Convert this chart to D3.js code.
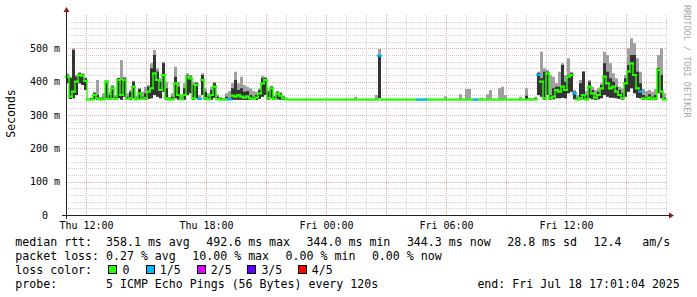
<!DOCTYPE html>
<html><head><meta charset="utf-8">
<script src="https://cdn.jsdelivr.net/npm/d3@7"></script>
<style>
html,body{margin:0;padding:0;background:#fff;overflow:hidden;}
svg{display:block;}
text{font-family:"DejaVu Sans Mono",monospace;white-space:pre;}
</style></head><body>
<svg id="chart" width="697" height="297"></svg>
<script>
// ---------------- DATA ----------------
const startTime = new Date(2025, 6, 17, 11, 1, 4);
const endTime = new Date(2025, 6, 18, 17, 1, 4);
const stepMinutes = 9;
const yTickValues = [0, 100, 200, 300, 400, 500];
const yTickLabels = ["0", "100 m", "200 m", "300 m", "400 m", "500 m"];

// median rtt (ms)
const med = [
 415,355,370,400,420,418,402,346,346,360,
 350,346,347,400,348,380,348,405,360,405,
 348,350,385,347,365,348,350,370,380,425,
 405,375,420,350,346,347,395,360,347,360,
 415,410,350,390,348,405,350,347,360,385,
 348,346,346,347,347,358,355,360,355,352,
 356,350,348,352,365,395,405,350,380,348,
 365,358,350,347,346,346,346,346,346,346,
 346,346,346,346,346,346,346,346,346,346,
 346,346,346,346,346,346,346,346,346,346,
 346,346,346,346,478,346,346,346,346,346,
 346,346,346,346,346,346,346,346,346,346,
 346,346,346,346,346,346,346,346,346,346,
 346,346,346,346,346,346,346,346,346,346,
 346,346,346,346,346,346,346,346,346,346,
 346,346,346,346,346,346,347,420,400,350,
 425,350,355,375,370,385,375,415,420,365,
 346,350,360,346,385,365,352,360,380,415,
 395,380,385,370,360,350,395,430,455,420,
 380,370,350,348,352,347,350,435,370,346
];
// lowest ping (ms)
const lo = [
 395,348,350,360,395,390,375,345,345,347,
 346,345,345,350,345,350,345,350,346,355,
 345,345,350,345,347,345,345,348,350,360,
 355,350,370,346,345,345,350,346,345,346,
 360,365,346,350,346,360,346,345,346,352,
 345,345,345,345,345,346,346,346,346,345,
 346,345,345,345,348,355,360,346,350,345,
 347,346,345,345,345,345,345,345,345,345,
 345,345,345,345,345,345,345,345,345,345,
 345,345,345,345,345,345,345,345,345,345,
 345,345,345,345,350,345,345,345,345,345,
 345,345,345,345,345,345,345,345,345,345,
 345,345,345,345,345,345,345,345,345,345,
 345,345,345,345,345,345,345,345,345,345,
 345,345,345,345,345,345,345,345,345,345,
 345,345,345,345,345,345,345,360,355,346,
 360,346,347,350,350,352,350,365,370,347,
 345,346,347,345,350,347,346,347,350,360,
 355,352,352,350,348,346,355,370,380,365,
 352,350,346,345,346,345,346,365,350,345
];
// 4th ping (top of dark smoke, ms)
const dk = [
 420,410,495,415,425,422,410,348,350,365,
 360,350,352,395,360,385,355,410,405,410,
 355,370,400,352,378,355,365,385,440,480,
 430,400,455,380,350,355,415,385,352,380,
 420,415,390,395,352,420,370,355,375,395,
 355,350,348,355,350,380,405,375,380,370,
 372,360,355,360,375,410,410,370,385,355,
 370,365,355,349,348,348,348,348,348,348,
 348,348,348,348,348,348,348,348,348,348,
 348,348,348,348,348,348,348,348,348,348,
 348,348,348,348,478,348,348,348,348,348,
 348,348,348,348,348,348,348,348,348,348,
 348,348,348,348,348,348,348,348,348,348,
 348,348,348,348,348,348,348,348,348,348,
 348,348,348,348,348,348,348,348,348,348,
 348,348,348,358,348,348,350,425,410,430,
 430,360,380,385,385,450,400,420,425,370,
 350,395,430,360,400,375,360,370,390,455,
 430,410,400,385,375,365,410,450,480,480,
 430,395,360,355,362,355,360,440,420,352
];
// highest ping (ms)
const hi = [
 425,415,500,420,428,425,412,350,352,370,
 405,355,365,405,370,390,360,412,465,415,
 365,375,403,358,382,370,385,390,455,495,
 440,410,460,400,355,365,445,400,360,395,
 425,420,400,400,360,425,380,365,385,400,
 362,355,352,365,372,395,430,395,415,390,
 385,380,372,370,380,418,415,375,388,358,
 372,368,358,352,349,349,349,349,349,349,
 349,349,349,349,349,349,349,349,349,349,
 349,349,349,349,349,349,355,349,349,349,
 349,349,349,360,498,349,349,349,349,349,
 349,349,349,349,349,349,349,349,349,349,
 349,349,349,349,349,349,356,349,349,349,
 349,362,349,378,378,349,349,349,352,349,
 362,375,349,349,380,385,360,349,349,349,
 349,355,349,380,352,350,355,430,490,440,
 435,420,415,395,430,455,420,470,430,375,
 360,405,432,372,405,385,375,380,395,490,
 480,455,425,410,385,380,420,500,530,515,
 470,430,378,372,375,370,378,480,500,365
];
// sample indices with 1/5 packet loss
const lossOneFifth = [44, 54, 104, 117, 119, 136, 157, 169, 191];

const lossLabels = ["0", "1/5", "2/5", "3/5", "4/5"];
const lossColors = ["#26ff00", "#00b8ff", "#dd00ff", "#5e00ff", "#ff0000"];

const rttLabel = "median rtt:";
const rttItems = ["358.1 ms avg", "492.6 ms max", "344.0 ms min", "344.3 ms now", "28.8 ms sd", "12.4   am/s"];
const lossLabel = "packet loss:";
const lossItems = ["0.27 % avg", "10.00 % max", "0.00 % min", "0.00 % now"];
const colorLabel = "loss color:";
const probeLabel = "probe:";
const probeText = "5 ICMP Echo Pings (56 Bytes) every 120s";
const endText = "end: Fri Jul 18 17:01:04 2025";
const yTitle = "Seconds";
const watermark = "RRDTOOL / TOBI OETIKER";

// ---------------- DRAW ----------------
const svg = d3.select("#chart");
const x = d3.scaleTime().domain([startTime, endTime]).range([66, 666]);
const y = d3.scaleLinear().domain([0, 600]).range([215, 15]);

const data = med.map((m, i) => ({
  t: d3.timeMinute.offset(startTime, i * stepMinutes),
  med: m, lo: lo[i], dk: dk[i], hi: hi[i],
  loss: lossOneFifth.includes(i) ? 1 : 0
}));
const last = data[data.length - 1];
const stepData = data.concat([Object.assign({}, last, {t: d3.timeMinute.offset(last.t, stepMinutes)})]);

const px = v => Math.round(v) + 0.5;

// grid
const grid = svg.append("g");
const hourTicks = d3.timeHour.every(1).range(startTime, endTime);
hourTicks.forEach(h => {
  const major = h.getHours() % 3 === 0;
  grid.append("line")
    .attr("x1", px(x(h))).attr("x2", px(x(h)))
    .attr("y1", 15).attr("y2", 215)
    .attr("stroke", major ? "#e8a8a8" : "#d0d0d0")
    .attr("stroke-dasharray", "1,1");
});
d3.range(20, 600, 20).forEach(v => {
  const major = v % 100 === 0;
  grid.append("line")
    .attr("x1", 66).attr("x2", 667)
    .attr("y1", px(y(v))).attr("y2", px(y(v)))
    .attr("stroke", major ? "#e8a8a8" : "#d0d0d0")
    .attr("stroke-dasharray", "1,1");
});

// smoke
const areaLight = d3.area().curve(d3.curveStepAfter)
  .x(d => x(d.t)).y0(d => y(d.lo)).y1(d => y(d.hi));
const areaDark = d3.area().curve(d3.curveStepAfter)
  .x(d => x(d.t)).y0(d => y(d.lo)).y1(d => y(d.dk));
svg.append("path").attr("d", areaLight(stepData)).attr("fill", "#a0a0a0");
svg.append("path").attr("d", areaDark(stepData)).attr("fill", "#333333");

// median lines by loss level: horizontal runs thick, vertical joins thin
lossColors.forEach((col, lvl) => {
  const ph = d3.path(), pv = d3.path();
  let any = false;
  data.forEach((d, i) => {
    if (d.loss !== lvl) return;
    any = true;
    const x0 = x(d.t), x1 = x(stepData[i + 1].t), yy = y(d.med);
    if (i > 0 && data[i - 1].loss === lvl) {
      pv.moveTo(x0, y(data[i - 1].med)); pv.lineTo(x0, yy);
    }
    ph.moveTo(x0, yy); ph.lineTo(x1, yy);
  });
  if (any) {
    svg.append("path").attr("d", pv.toString())
      .attr("fill", "none").attr("stroke", col).attr("stroke-width", 1.4);
    svg.append("path").attr("d", ph.toString())
      .attr("fill", "none").attr("stroke", col).attr("stroke-width", 2.2)
      .attr("stroke-linecap", "square");
  }
});

// axes
const axisCol = "#222";
svg.append("line").attr("x1", 62).attr("x2", 670).attr("y1", 215.5).attr("y2", 215.5).attr("stroke", axisCol);
svg.append("line").attr("x1", 66.5).attr("x2", 66.5).attr("y1", 219).attr("y2", 11).attr("stroke", axisCol);
svg.append("path").attr("d", "M669,212.5L674,215.5L669,218.5Z").attr("fill", "#8b1a1a");
svg.append("path").attr("d", "M63.5,12L66.5,7L69.5,12Z").attr("fill", "#8b1a1a");

// y tick labels
yTickValues.forEach((v, i) => {
  svg.append("text").attr("x", 45).attr("y", y(v) + 3.5)
    .attr("text-anchor", "middle").attr("font-size", 10).attr("fill", "#000")
    .text(yTickLabels[i]);
});
// x tick labels
const fmt = d3.timeFormat("%a %H:%M");
d3.timeHour.every(6).range(startTime, endTime).forEach(h => {
  svg.append("text").attr("x", px(x(h))).attr("y", 229)
    .attr("text-anchor", "middle").attr("font-size", 10).attr("fill", "#000")
    .text(fmt(h));
});

// titles
svg.append("text").attr("transform", "translate(15,113.5) rotate(-90)")
  .attr("text-anchor", "middle").attr("font-size", 11.5).attr("fill", "#000").text(yTitle);
svg.append("text").attr("transform", "translate(684,5) rotate(90)")
  .attr("font-size", 8.5).attr("fill", "#a8a8a8").text(watermark);

// legend
const lg = svg.append("g").attr("font-size", 11.6).attr("fill", "#000");
const rowY = [245.5, 259.5, 273.5, 287.5];
const col0 = 15.3, colV = 106.0;
const rttX = [colV, 206.3, 306.6, 406.9, 507.2, 593.5];
const lossX = [colV, 192.3, 285.6, 371.9];
lg.append("text").attr("x", col0).attr("y", rowY[0]).text(rttLabel);
rttItems.forEach((s, i) => lg.append("text").attr("x", rttX[i]).attr("y", rowY[0]).text(s));
lg.append("text").attr("x", col0).attr("y", rowY[1]).text(lossLabel);
lossItems.forEach((s, i) => lg.append("text").attr("x", lossX[i]).attr("y", rowY[1]).text(s));
lg.append("text").attr("x", col0).attr("y", rowY[2]).text(colorLabel);
const boxX = [108.5, 146.5, 197.5, 247.5, 298.5];
const boxLabelX = [122.4, 159.8, 210.8, 261.4, 311.8];
lossLabels.forEach((s, i) => {
  lg.append("rect").attr("x", boxX[i]).attr("y", 265.5).attr("width", 8).attr("height", 8)
    .attr("fill", lossColors[i]).attr("stroke", "#000").attr("stroke-width", 1);
  lg.append("text").attr("x", boxLabelX[i]).attr("y", rowY[2]).text(s);
});
lg.append("text").attr("x", col0).attr("y", rowY[3]).text(probeLabel);
lg.append("text").attr("x", colV).attr("y", rowY[3]).text(probeText);
lg.append("text").attr("x", 477.4).attr("y", rowY[3]).text(endText);
</script>
</body></html>
